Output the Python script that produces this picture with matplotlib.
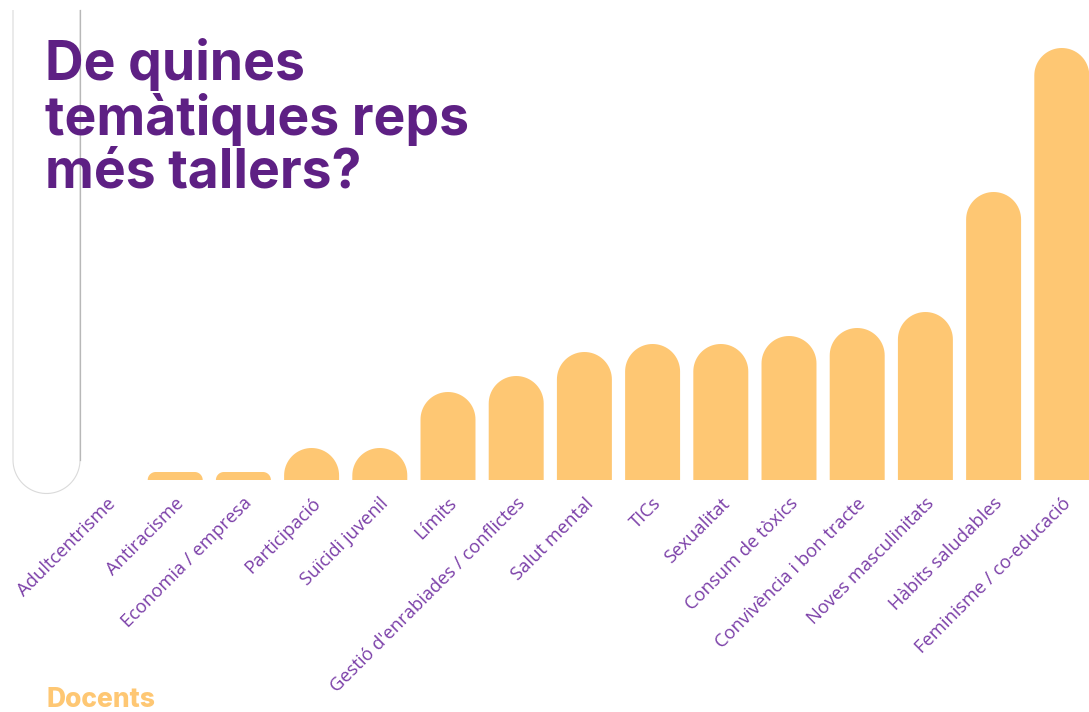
import numpy as np
import matplotlib.pyplot as plt
import matplotlib.transforms as mtransforms
from matplotlib.patches import PathPatch
from matplotlib.path import Path

categories = ['Adultcentrisme', 'Antiracisme', 'Economia / empresa', 'Participació',
              'Suïcidi juvenil', 'Límits', "Gestió d'enrabiades / conflictes",
              'Salut mental', 'TICs', 'Sexualitat', 'Consum de tòxics',
              'Convivència i bon tracte', 'Noves masculinitats', 'Hàbits saludables',
              'Feminisme / co-educació']
values = [0, 1, 1, 4, 4, 11, 13, 16, 17, 17, 18, 19, 21, 36, 54]

title = 'De quines\ntemàtiques reps\nmés tallers?'
footer = 'Docents'

bar_color = '#FEC773'
purple = '#5E2084'
label_purple = '#7B3FA8'

W, H = 1089, 712
fig = plt.figure(figsize=(W / 100, H / 100), dpi=100)
base_px = 480
ax = fig.add_axes([0, (H - base_px) / H, 1, base_px / H])

first_c, step = 107, 68.2
xl, xr = -first_c / step, (W - first_c) / step
ax.set_xlim(xl, xr)
ax.set_ylim(0, 60)
sx = W / (xr - xl)
sy = base_px / 60

bw = 0.806
for i, v in enumerate(values):
    if v <= 0:
        continue
    x0, x1 = i - bw / 2, i + bw / 2
    r_px = min(bw * sx / 2, v * sy)
    rx, ry = r_px / sx, r_px / sy
    t = np.linspace(np.pi, np.pi / 2, 20)
    left_arc = np.column_stack([x0 + rx + rx * np.cos(t), v - ry + ry * np.sin(t)])
    t2 = np.linspace(np.pi / 2, 0, 20)
    right_arc = np.column_stack([x1 - rx + rx * np.cos(t2), v - ry + ry * np.sin(t2)])
    pts = np.vstack([[x0, 0], left_arc, right_arc, [x1, 0], [x0, 0]])
    ax.add_patch(PathPatch(Path(pts), facecolor=bar_color, edgecolor='none'))

ax.set_xticks(range(len(categories)))
ax.set_xticklabels(categories, rotation=45, ha='right', va='center',
                   rotation_mode='anchor', color=label_purple,
                   fontsize=13.2, family='Open Sans')
ax.tick_params(axis='x', length=0, pad=12)
shift = mtransforms.ScaledTranslation(6 / 100, -4 / 100, fig.dpi_scale_trans)
for lbl in ax.get_xticklabels():
    lbl.set_transform(lbl.get_transform() + shift)
ax.set_yticks([])
for s in ax.spines.values():
    s.set_visible(False)

# faint outline at the left edge
def fx(p):
    return p / W

def fy(p):
    return (H - p) / H

t = np.linspace(np.pi, 2 * np.pi, 40)
arc = np.column_stack([fx(46.5 + 33.5 * np.cos(t)), fy(460 - 33.5 * np.sin(t))])
outline = np.vstack([[fx(13), fy(10)], arc, [fx(80), fy(10)]])
fig.add_artist(PathPatch(Path(outline), facecolor='none', edgecolor='#dadada',
                         lw=0.8, transform=fig.transFigure))
fig.add_artist(plt.Line2D([fx(80), fx(80)], [fy(10), fy(460)], color='#b8b8b8',
                          lw=0.9, transform=fig.transFigure))

fig.text(fx(45), fy(188), title, color=purple, fontsize=38.5, fontweight='bold',
         family='Inter', va='baseline', ha='left', linespacing=1.05)
fig.text(fx(46), fy(707), footer, color=bar_color, fontsize=19, fontweight='heavy',
         family='Inter', va='baseline', ha='left')

fig.savefig('out.png', dpi=100, facecolor='white')
